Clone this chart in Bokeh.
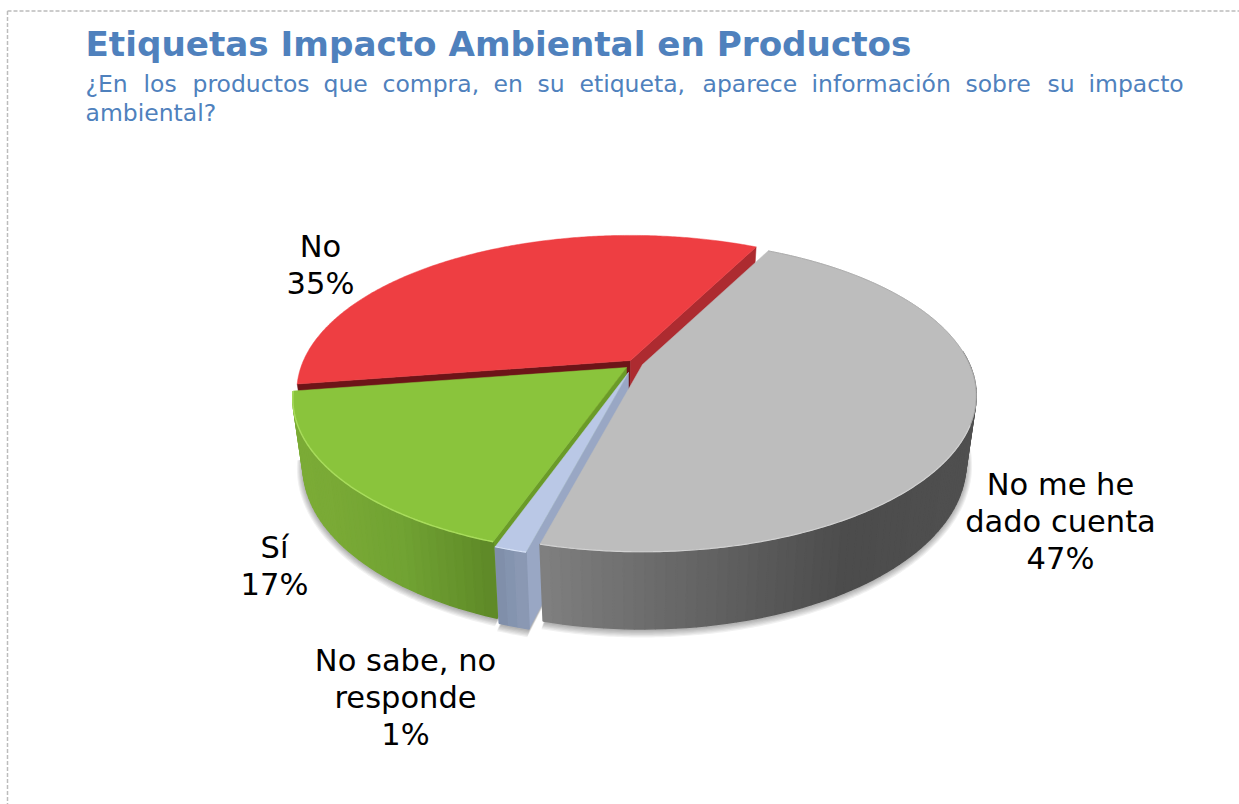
import numpy as np
from bokeh.plotting import figure
from bokeh.models import Range1d
from bokeh.core.properties import value
from bokeh.embed import file_html
from bokeh.resources import INLINE

# ---------- data ----------
categories = ["No me he\ndado cuenta", "No sabe, no\nresponde", "Sí", "No"]
shares = [46.6, 1.3, 17.2, 34.9]
title_text = "Etiquetas Impacto Ambiental en Productos"
subtitle_words = ["¿En", "los", "productos", "que", "compra,", "en", "su", "etiqueta,",
                  "aparece", "información", "sobre", "su", "impacto"]
subtitle_last = "ambiental?"

# ---------- layout and style ----------
W, H = 1239, 804
word_x = [85, 143, 192, 323, 382, 493, 537, 579, 702, 811, 965, 1047, 1088]
label_pos = [(1060, 484), (405, 660), (274, 547), (320, 246)]
apex = [(642, 364), (628, 372), (626, 367), (630, 360)]
START = 63.1
K = 0.199
RX, RY = 327, 150
RXB, RYB, DEPTH = 317, 159, 66
BLUE = "#4f81bd"
top_color = ["#bdbdbd", "#bac8e6", "#8ac43c", "#ee3e42"]
wall_stops = [
    ([541, 640, 850, 975], [(128, 128, 128), (110, 110, 110), (76, 76, 76), (80, 80, 80)]),
    ([495, 530], [(126, 142, 169), (143, 157, 184)]),
    ([295, 330, 400, 490], [(124, 172, 55), (122, 170, 54), (113, 163, 51), (95, 138, 40)]),
    None,
]


def project(ax, ay, rx, ry, deg):
    t = np.radians(np.asarray(deg, dtype=float))
    w = 1 + K * np.sin(t)
    return ax + rx * np.cos(t) / w, ay - ry * np.sin(t) / w


p = figure(width=W, height=H, x_range=Range1d(0, W), y_range=Range1d(H, 0),
           x_axis_type=None, y_axis_type=None, toolbar_location=None,
           output_backend="svg", min_border=0, outline_line_color=None,
           background_fill_color="white", border_fill_color="white")
p.grid.visible = False

# dashed frame
p.line([7, W], [10.5, 10.5], line_color="#bcbcbc", line_width=1.5, line_dash="4 2")
p.line([7, 7], [10.5, H], line_color="#bcbcbc", line_width=1.5, line_dash="4 2")

# slice angles, clockwise from START
edges = START - np.cumsum([0] + [s * 3.6 for s in shares])


def arc(a, b):
    return np.linspace(a, b, max(3, int(abs(a - b) * 2)))


# soft shadow under the drum
for i in [0, 1, 2]:
    ax, ay = apex[i]
    th = arc(edges[i], edges[i + 1])
    for grow in range(1, 7):
        sx, sy = project(ax, ay + DEPTH + 1, RXB + grow, RYB + grow, th)
        p.patch(np.r_[ax, sx], np.r_[ay + DEPTH, sy], fill_color="#000000",
                fill_alpha=0.055, line_color=None)


def face(i, deg, color):
    ax, ay = apex[i]
    x1, y1 = project(ax, ay, RX, RY, deg)
    x2, y2 = project(ax, ay + DEPTH, RXB, RYB, deg)
    p.patch([ax, x1, x2, ax], [ay, y1, y2, ay + DEPTH], fill_color=color,
            line_color=color, line_width=0.5)


def wall(i):
    stops = wall_stops[i]
    ax, ay = apex[i]
    lo = edges[i + 1]
    hi = min(edges[i], 5)
    th = np.arange(lo, hi + 0.5, 1.5)
    th[-1] = hi
    xs, ys, cols = [], [], []
    for a, b in zip(th[:-1], th[1:]):
        x1, y1 = project(ax, ay, RX, RY, [a, b])
        x2, y2 = project(ax, ay + DEPTH, RXB, RYB, [a, b])
        xs.append([x1[0], x1[1], x2[1], x2[0]])
        ys.append([y1[0], y1[1], y2[1], y2[0]])
        mid = x1.mean()
        rgb = [int(np.interp(mid, stops[0], [c[k] for c in stops[1]])) for k in range(3)]
        cols.append("#%02x%02x%02x" % tuple(rgb))
    p.patches(xs, ys, fill_color=cols, line_color=cols, line_width=1.5)


def top(i):
    ax, ay = apex[i]
    x, y = project(ax, ay, RX, RY, arc(edges[i], edges[i + 1]))
    p.patch(np.r_[ax, x], np.r_[ay, y], fill_color=top_color[i], line_color=top_color[i],
            line_width=0.5)


def rim(i, a, b, color, width=1.5):
    ax, ay = apex[i]
    x, y = project(ax, ay, RX, RY, arc(a, b))
    p.line(x, y, line_color=color, line_width=width)


# red
face(3, edges[3], "#6d1418")
face(3, edges[4] + 360, "#ad2b30")
top(3)
# green
face(2, edges[2], "#6a9b28")
wall(2)
top(2)
rim(2, edges[2], edges[3], "#a8dc5c")
# blue
face(1, edges[1], "#99a7c4")
wall(1)
top(1)
rim(1, edges[1], edges[2], "#d7e2f6", 1.2)
# gray
wall(0)
top(0)
rim(0, edges[0], -22, "#adadad", 1.0)
rim(0, -22, edges[1], "#d2d2d2", 1.2)

# texts
p.text([85], [43], text=[title_text], text_color=BLUE, text_font=value("DejaVu Sans"),
       text_font_style="bold", text_font_size=value("34.2px"), text_baseline="middle", text_align="left")
p.text(word_x, [83] * len(word_x), text=subtitle_words, text_color=BLUE,
       text_font=value("DejaVu Sans"), text_font_size=value("23.5px"),
       text_baseline="middle", text_align="left")
p.text([85], [112], text=[subtitle_last], text_color=BLUE, text_font=value("DejaVu Sans"),
       text_font_size=value("23.5px"), text_baseline="middle", text_align="left")

LINE = 37
for cat, share, (lx, ly) in zip(categories, shares, label_pos):
    lines = cat.split("\n") + ["%d%%" % round(share)]
    p.text([lx] * len(lines), [ly - 0.5 + j * LINE for j in range(len(lines))], text=lines,
           text_color="#000000", text_font=value("DejaVu Sans"),
           text_font_size=value("30.5px"), text_baseline="middle", text_align="center")

open("out.html", "w").write(file_html(p, INLINE))
